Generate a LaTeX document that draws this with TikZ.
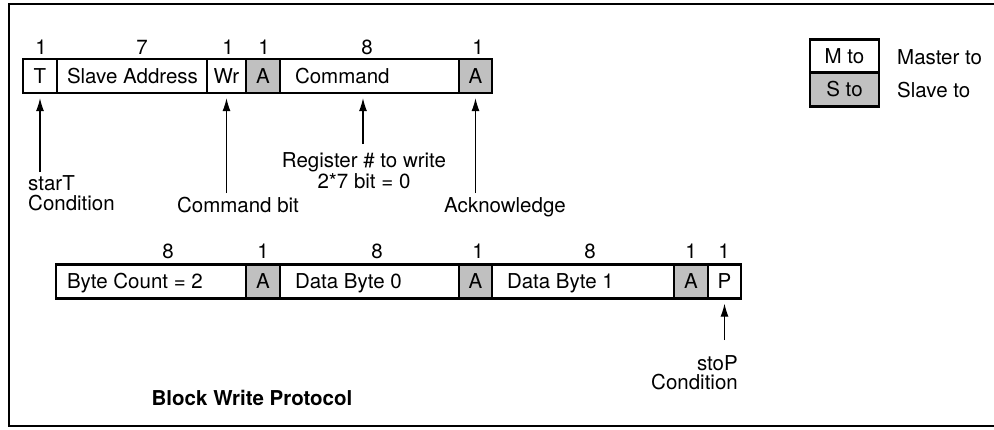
\documentclass[tikz,border=0pt]{standalone}
\usepackage{fontspec}
\setmainfont{TeX Gyre Heros}
\usetikzlibrary{arrows.meta}
\definecolor{ackgray}{RGB}{192,192,192}
\newcommand{\lefttxt}[2]{\makebox[#1][l]{#2}}
\begin{document}
\begin{tikzpicture}[x=1pt,y=-1pt,
  font=\fontsize{20.5}{20}\selectfont,
  cell/.style={draw=black, line width=2.2pt, fill=white, minimum height=34pt,
    inner sep=0pt, text height=14.7pt, text depth=0pt, anchor=center},
  gcell/.style={cell, fill=ackgray},
  num/.style={anchor=north, inner sep=0pt, text height=14.7pt, text depth=0pt},
  lbl/.style={inner sep=0pt},
  arr/.style={line width=1.2pt, -{Latex[length=13pt,width=8pt]}, shorten >=4pt}]
\useasboundingbox (0,0) rectangle (994,429);
\draw[line width=2pt] (9,4) rectangle (1010,426);

% row 1
\node[cell, minimum width=34pt]  (cT)   at (40,76)    {T};
\node[cell, minimum width=150pt] (cSA)  at (132,76)   {\lefttxt{130pt}{Slave Address}};
\node[cell, minimum width=39pt]  (cWr)  at (226.5,76) {Wr};
\node[gcell, minimum width=34pt] (cA1)  at (263,76)   {A};
\node[cell, minimum width=179pt] (cCmd) at (369.5,76) {\lefttxt{149pt}{Command}};
\node[gcell, minimum width=33pt] (cA2)  at (475.5,76) {A};

\node[num] (n1) at (41,40)  {1};
\node[num] (n2) at (142,40) {7};
\node[num] (n3) at (228,40) {1};
\node[num] (n4) at (264,40) {1};
\node[num] (n5) at (367,40) {8};
\node[num] (n6) at (478,40) {1};

% row 2
\node[cell, minimum width=190pt] (cBC) at (151,281.5)   {\lefttxt{168pt}{Byte Count = 2}};
\node[gcell, minimum width=34pt] (cA3) at (263,281.5)   {A};
\node[cell, minimum width=179pt] (cD0) at (369.5,281.5) {\lefttxt{149pt}{Data Byte 0}};
\node[gcell, minimum width=33pt] (cA4) at (475.5,281.5) {A};
\node[cell, minimum width=182pt] (cD1) at (583,281.5)   {\lefttxt{152pt}{Data Byte 1}};
\node[gcell, minimum width=34pt] (cA5) at (691,281.5)   {A};
\node[cell, minimum width=33pt]  (cP)  at (724.5,281.5) {P};

\node[num] (m1) at (168,244) {8};
\node[num] (m2) at (263,244) {1};
\node[num] (m3) at (377,244) {8};
\node[num] (m4) at (478,244) {1};
\node[num] (m5) at (590,244) {8};
\node[num] (m6) at (691,244) {1};
\node[num] (m7) at (724,244) {1};

% legend
\node[cell, minimum width=69pt]  (lM) at (844.5,56.5) {M to};
\node[gcell, minimum width=69pt] (lS) at (844.5,89.5) {S to};
\node[lbl, anchor=west, text height=14.7pt, text depth=0pt] (tM) at (897,57.5) {Master to};
\node[lbl, anchor=west, text height=14.7pt, text depth=0pt] (tS) at (897,90.5) {Slave to};

% labels
\node[lbl, anchor=north west, align=left] (lstart) at (28,175) {starT\\Condition};
\node[lbl, anchor=north] (lcb) at (238,197) {Command bit};
\node[lbl, anchor=north, align=center, font=\fontsize{20.5}{21}\selectfont] (lreg) at (364,152) {Register \# to write\\2*7 bit = 0};
\node[lbl, anchor=north] (lack) at (505,197) {Acknowledge};
\node[lbl, anchor=north east, align=right, font=\fontsize{20.5}{19}\selectfont] (lstop) at (738,355) {stoP\\Condition};
\node[lbl, anchor=north, font=\fontsize{20.5}{20}\selectfont\bfseries] (ltitle) at (252,390) {Block Write Protocol};

% arrows
\draw[arr, shorten <=3pt] (lstart.north -| cT.south) -- (cT.south);
\draw[arr, shorten <=4pt] (lcb.north -| cWr.south) -- (cWr.south);
\draw[arr, shorten <=8pt] (lreg.north -| 363,0) -- (cCmd.south -| 363,0);
\draw[arr, shorten <=4pt] (lack.north -| cA2.south) -- (cA2.south);
\draw[arr, shorten <=15pt] (lstop.north -| cP.south) -- (cP.south);
\end{tikzpicture}
\end{document}
